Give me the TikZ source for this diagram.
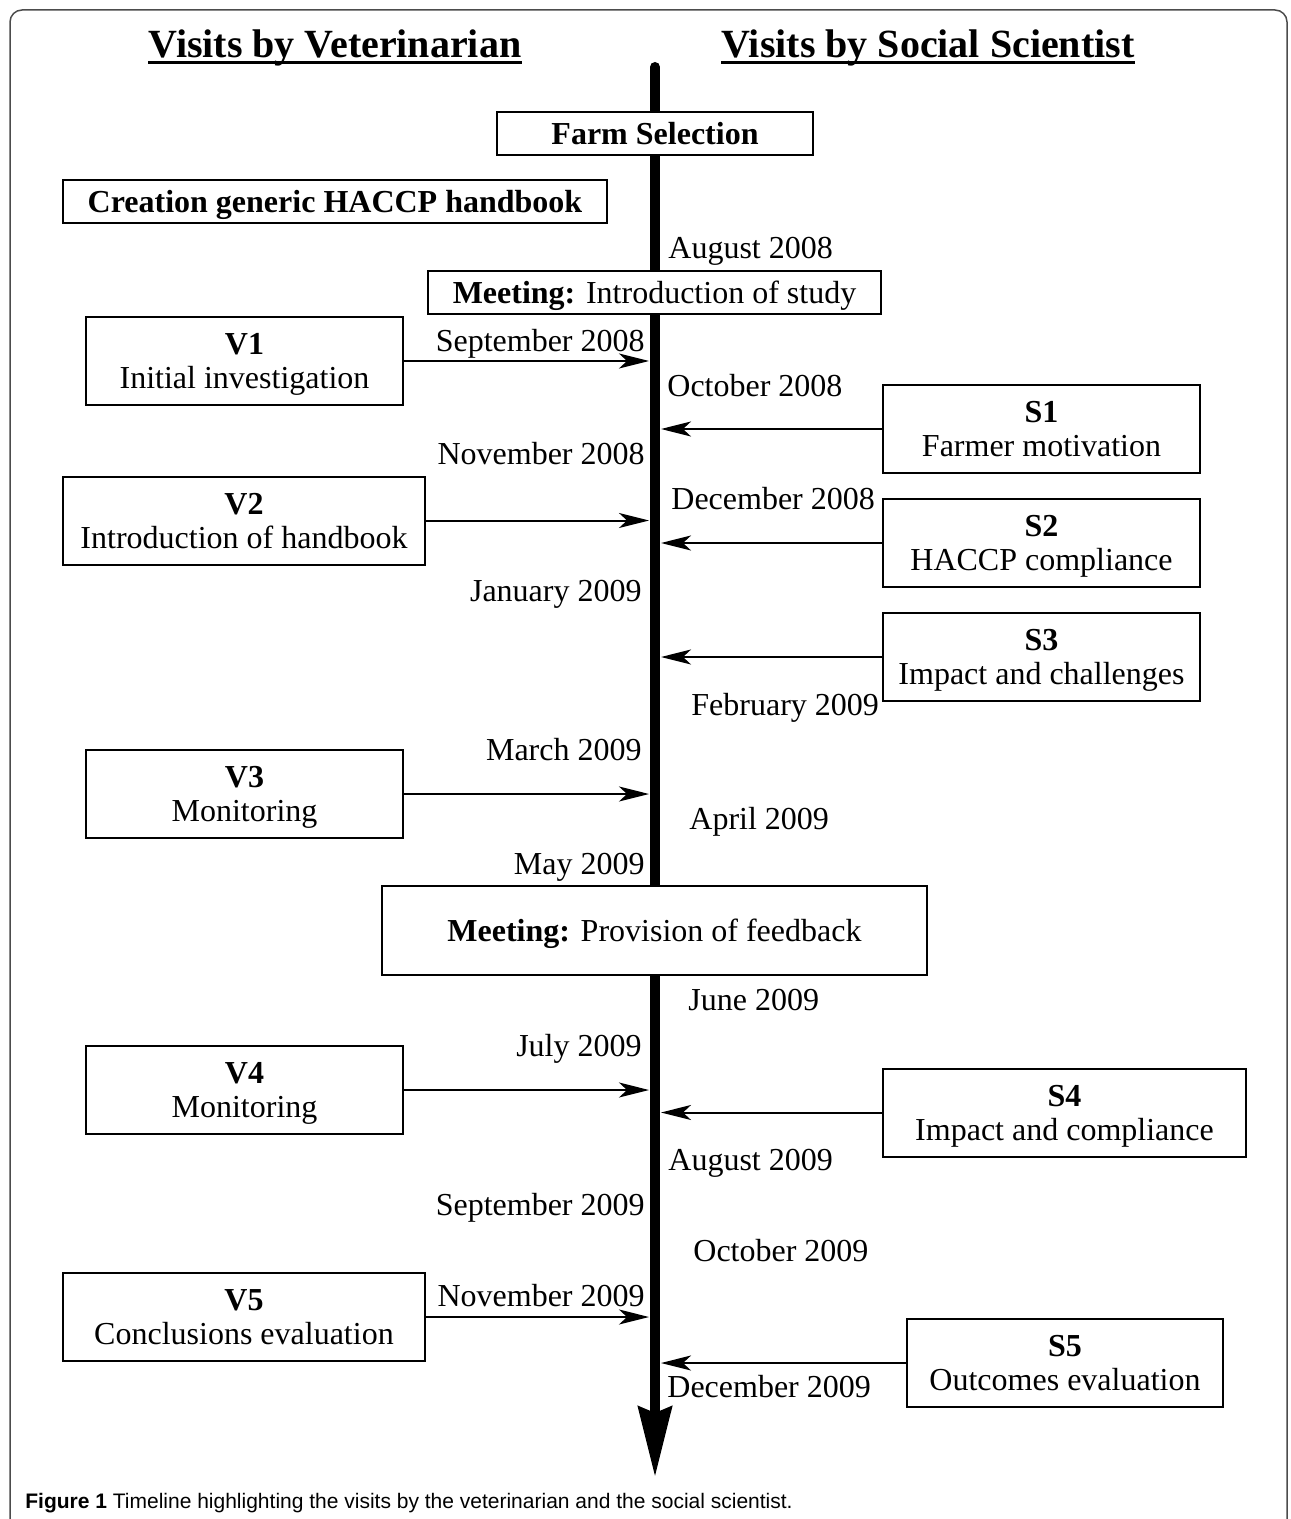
\documentclass[tikz,border=0pt]{standalone}
\usepackage{fontspec}
\setmainfont{Liberation Serif}
\newfontfamily\capfont{Liberation Sans}
\usetikzlibrary{arrows.meta}

\tikzset{
  box/.style={draw,fill=white,line width=1pt,inner sep=0pt,align=center,text depth=0pt,font=\fontsize{16}{17}\selectfont},
  date/.style={inner sep=0pt,font=\fontsize{16}{17}\selectfont},
  heading/.style={inner sep=0pt,font=\fontsize{20}{24}\selectfont\bfseries},
  visit/.style={line width=1pt,-{Stealth[length=15pt,width=7.5pt,inset=4pt]}},
}

\begin{document}
\begin{tikzpicture}[x=0.5pt,y=-0.5pt]
\useasboundingbox (0,0) rectangle (1290,1519);
\draw[gray!60!black,line width=0.75pt,rounded corners=6pt] (10,1530) -- (10,10) -- (1287,10) -- (1287,1530);

% headings
\node[heading,anchor=base] (hv) at (335,58) {Visits by Veterinarian};
\node[heading,anchor=base] (hs) at (928,58) {Visits by Social Scientist};
\draw[line width=1.5pt] ([yshift=-2.5pt]hv.base west) -- ([yshift=-2.5pt]hv.base east);
\draw[line width=1.5pt] ([yshift=-2.5pt]hs.base west) -- ([yshift=-2.5pt]hs.base east);

% timeline
\coordinate (tltop) at (655,67);
\coordinate (tlend) at (655,1477);
\coordinate (tlL) at (649,0);
\coordinate (tlR) at (661,0);
\draw[line width=5pt,line cap=round,-{Stealth[length=35pt,width=16.5pt,inset=3pt]}] (tltop) -- (tlend);

% single line boxes
\node[box,minimum width=158pt,minimum height=21.5pt,font=\fontsize{16}{17}\selectfont\bfseries] (farm) at (655,133.5) {Farm Selection};
\node[box,minimum width=272pt,minimum height=21.5pt,font=\fontsize{16}{17}\selectfont\bfseries] (haccp) at (335,201.5) {Creation generic HACCP handbook};
\node[box,minimum width=226.5pt,minimum height=21.5pt] (meet1) at (654.5,292.5) {\textbf{Meeting:} Introduction of study};
\node[box,minimum width=272.5pt,minimum height=44.5pt] (meet2) at (654.5,930.5) {\textbf{Meeting:} Provision of feedback};

% visits
\foreach \n/\x/\y/\w/\txt in {
  v1/244.5/361/158.5/{\textbf{V1}\\Initial investigation},
  v2/244/520.5/181/{\textbf{V2}\\Introduction of handbook},
  v3/244.5/794/158.5/{\textbf{V3}\\Monitoring},
  v4/244.5/1090/158.5/{\textbf{V4}\\Monitoring},
  v5/244/1317/181/{\textbf{V5}\\Conclusions evaluation},
  s1/1041.5/429/158.5/{\textbf{S1}\\Farmer motivation},
  s2/1041.5/543/158.5/{\textbf{S2}\\HACCP compliance},
  s3/1041.5/657/158.5/{\textbf{S3}\\Impact and challenges},
  s4/1064.5/1112.5/181.5/{\textbf{S4}\\Impact and compliance},
  s5/1065/1363/158/{\textbf{S5}\\Outcomes evaluation}}
  \node[box,minimum width=\w pt,minimum height=44pt] (\n) at (\x,\y) {\txt};

\foreach \n in {v1,v2,v3,v4,v5}
  \draw[visit] (\n) -- (\n -| tlL);
\foreach \n in {s1,s2,s3,s4,s5}
  \draw[visit] (\n) -- (\n -| tlR);

% months
\foreach \n/\x/\y/\txt in {
  dl1/645/351/September 2008, dl2/645/464/November 2008,
  dl3/642/601/January 2009, dl4/642/760/March 2009,
  dl5/645/874/May 2009, dl6/642/1056/July 2009,
  dl7/645/1215/September 2009, dl8/645/1306/November 2009}
  \node[date,anchor=base east] (\n) at (\x,\y) {\txt};
\foreach \n/\x/\y/\txt in {
  dr1/668/259/August 2008, dr2/667/396/October 2008,
  dr3/671/509/December 2008, dr4/691/715/February 2009,
  dr5/689/829/April 2009, dr6/688/1010/June 2009,
  dr7/668/1170/August 2009, dr8/693/1261/October 2009,
  dr9/667/1397/December 2009}
  \node[date,anchor=base west] (\n) at (\x,\y) {\txt};

% caption
\node[inner sep=0pt,anchor=base west,font=\capfont\fontsize{10.5}{12}\selectfont] (cap) at (25,1508) {\textbf{Figure 1} Timeline highlighting the visits by the veterinarian and the social scientist.};
\end{tikzpicture}
\end{document}
